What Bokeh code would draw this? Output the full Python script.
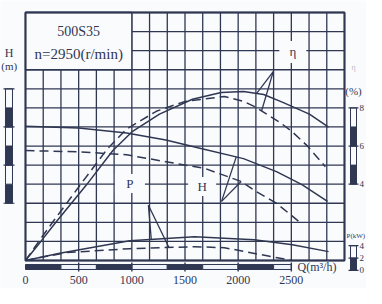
import numpy as np
from bokeh.plotting import figure
from bokeh.models import Range1d
from bokeh.core.properties import value
from bokeh.embed import file_html
from bokeh.resources import INLINE

# ---------------- data ----------------
# Head H (m) vs flow Q (m3/h)
q_h_solid = [0, 500, 950, 1320, 1660, 2050, 2360, 2600, 2840]
h_solid = [45.2, 44.7, 43.4, 41.6, 39.3, 36.7, 33.3, 29.9, 25.5]
q_h_dash = [0, 500, 950, 1320, 1690, 2030, 2150, 2360, 2590]
h_dash = [38.8, 38.5, 37.7, 35.9, 34.1, 30.7, 28.4, 25.0, 19.8]
# Efficiency (%)
q_eta_solid = [0, 150, 280, 570, 820, 1000, 1260, 1570, 1840, 2050, 2240, 2420, 2670, 2850]
eta_solid = [0, 10.4, 19.7, 39.4, 57.5, 67.4, 76.7, 84.5, 88.1, 88.6, 87.0, 82.9, 76.7, 69.9]
q_eta_dash = [0, 130, 270, 540, 770, 950, 1230, 1500, 1870, 2050, 2150, 2390, 2510, 2650, 2820]
eta_dash = [0, 10.4, 21.2, 41.5, 58.5, 68.9, 78.2, 83.4, 86.0, 83.4, 80.8, 72.5, 67.4, 60.1, 49.2]
# Shaft power P (kW)
q_p_solid = [0, 310, 980, 1590, 2150, 2510, 2850]
p_solid = [160, 272, 480, 544, 496, 416, 304]
q_p_dash = [0, 380, 980, 1590, 1870, 2210, 2510]
p_dash = [160, 288, 352, 384, 368, 256, 160]

# axes / scales
q_ticks = [0, 500, 1000, 1500, 2000, 2500]
q_tick_labels = ["0", "500", "1000", "1500", "2000", "2500"]
q_bar_edges = [0, 333.3, 666.7, 1000, 1333.3, 1666.7, 2000, 2333.3, 2500]
h_bar_edges = [25, 30, 35, 40, 45, 50, 55]
eta_bar_edges = [40, 50, 60, 70, 80]
eta_label_vals = [40, 60, 80]
eta_labels = ["4", "6", "8"]          # as printed at the chart edge
p_bar_edges = [0, 200, 400]
p_label_vals = [0, 200, 400]
p_labels = ["0", "2", "4"]            # as printed at the chart edge

Q_MAX = 3000
H_MIN, H_MAX = 10, 75
title1 = "500S35"
title2 = "n=2950(r/min)"

# ---------------- figure ----------------
INK = "#2f3753"
BG = "#fafbfd"
FONT = "Liberation Serif"

p = figure(width=366, height=288, output_backend="svg", toolbar_location=None,
           x_range=Range1d(-235.1, 3206.9), y_range=Range1d(2.661, 78.145),
           x_axis_type=None, y_axis_type=None, min_border=0)
p.extra_y_ranges = {"eta": Range1d(-14.68, 136.29), "P": Range1d(-293, 4370)}
p.background_fill_color = BG
p.border_fill_color = BG
p.outline_line_color = None
p.grid.visible = False

# grid
qg = np.linspace(0, Q_MAX, 19)
hg = np.arange(H_MIN, H_MAX + 1, 5)
p.segment(x0=qg, y0=[H_MIN] * len(qg), x1=qg, y1=[H_MAX] * len(qg), line_color=INK, line_width=1.3)
p.segment(x0=[0] * len(hg), y0=hg, x1=[Q_MAX] * len(hg), y1=hg, line_color=INK, line_width=1.3)

# title box
p.quad(left=[0], right=[1000], bottom=[60], top=[H_MAX], fill_color=BG, line_color=INK, line_width=1.3)
p.text(x=[500], y=[70.1], text=[title1], text_font=value(FONT), text_font_size="14px",
       text_align="center", text_baseline="middle", text_color=INK)
p.text(x=[500], y=[64.25], text=[title2], text_font=value(FONT), text_font_size="15px",
       text_align="center", text_baseline="middle", text_color=INK)

# label backgrounds
p.rect(x=[2514], y=[109.3], width=27, height=22, width_units="screen", height_units="screen",
       fill_color=BG, line_color=None, y_range_name="eta")
p.rect(x=[1661], y=[29.4], width=28, height=19, width_units="screen", height_units="screen",
       fill_color=BG, line_color=None)
p.rect(x=[982], y=[1408], width=30, height=19, width_units="screen", height_units="screen",
       fill_color=BG, line_color=None, y_range_name="P")

# curves
lw = 1.5
p.line(q_h_solid, h_solid, line_color=INK, line_width=lw)
p.line(q_h_dash, h_dash, line_color=INK, line_width=lw, line_dash="9 5")
p.line(q_eta_solid, eta_solid, line_color=INK, line_width=lw, y_range_name="eta")
p.line(q_eta_dash, eta_dash, line_color=INK, line_width=lw, line_dash="9 5", y_range_name="eta")
p.line(q_p_solid, p_solid, line_color=INK, line_width=lw, y_range_name="P")
p.line(q_p_dash, p_dash, line_color=INK, line_width=lw, line_dash="9 5", y_range_name="P")

# leaders
for q, xs, ys in [(2174, q_eta_solid, eta_solid), (2220, q_eta_dash, eta_dash)]:
    yv = float(np.interp(q, xs, ys))
    p.segment(x0=[2330], y0=[99.0], x1=[q], y1=[yv], line_color=INK, line_width=1.3, y_range_name="eta")
for q, xs, ys in [(1982, q_h_solid, h_solid), (2028, q_h_dash, h_dash)]:
    yv = float(np.interp(q, xs, ys))
    p.segment(x0=[1844], y0=[25.5], x1=[q], y1=[yv], line_color=INK, line_width=1.3)
for q, xs, ys in [(1183, q_p_solid, p_solid), (1349, q_p_dash, p_dash)]:
    yv = float(np.interp(q, xs, ys))
    p.segment(x0=[1156], y0=[1056], x1=[q], y1=[yv], line_color=INK, line_width=1.3, y_range_name="P")

# curve labels
p.text(x=[2514], y=[109.3], text=["η"], text_font=value(FONT), text_font_size="13px",
       text_align="center", text_baseline="middle", text_color=INK, y_range_name="eta")
p.text(x=[1661], y=[29.4], text=["H"], text_font=value(FONT), text_font_size="13px",
       text_align="center", text_baseline="middle", text_color=INK)
p.text(x=[982], y=[1408], text=["P"], text_font=value(FONT), text_font_size="13px",
       text_align="center", text_baseline="middle", text_color=INK, y_range_name="P")

# frame border
p.quad(left=[0], right=[Q_MAX], bottom=[H_MIN], top=[H_MAX], fill_color=None, line_color=INK, line_width=2)

# ---------------- bottom Q scale bar ----------------
bl = q_bar_edges[:-1]
br = q_bar_edges[1:]
fills = [INK if i % 2 == 0 else "#eef3fa" for i in range(len(bl))]
p.quad(left=bl, right=br, bottom=[7.641] * len(bl), top=[8.952] * len(bl), fill_color=fills,
       line_color=INK, line_width=1)
p.segment(x0=q_ticks[1:], y0=[7.117] * 5, x1=q_ticks[1:], y1=[9.476] * 5, line_color=INK, line_width=1.4)
p.text(x=q_ticks, y=[3.9] * len(q_ticks), text=q_tick_labels, text_font=value(FONT),
       text_font_size="12px", text_align="center", text_baseline="bottom", text_color=INK)
p.text(x=[2558], y=[8.296], text=["Q(m³/h)"], text_font=value(FONT), text_font_size="12px",
       text_align="left", text_baseline="middle", text_color=INK)

# ---------------- left H scale ----------------
hl, hr = -188.1, -122.3
hb = h_bar_edges[:-1]
ht = h_bar_edges[1:]
hfills = [INK if i % 2 == 0 else BG for i in range(len(hb))]
p.quad(left=[hl] * len(hb), right=[hr] * len(hb), bottom=hb, top=ht, fill_color=hfills,
       line_color=INK, line_width=1)
cap_h = [h_bar_edges[0], h_bar_edges[2], h_bar_edges[4], h_bar_edges[-1]]
p.segment(x0=[-206.9] * 4, y0=cap_h, x1=[-103.4] * 4, y1=cap_h, line_color=INK, line_width=1.2)
p.text(x=[-155.2], y=[64.28], text=["H"], text_font=value(FONT), text_font_size="12px",
       text_align="center", text_baseline="middle", text_color=INK)
p.text(x=[-228], y=[61.03], text=["(m)"], text_font=value(FONT), text_font_size="11px",
       text_align="left", text_baseline="middle", text_color=INK)

# ---------------- right eta scale ----------------
el, er = 3056.4, 3112.9
eb = eta_bar_edges[:-1]
et = eta_bar_edges[1:]
efills = [INK if i % 2 == 0 else BG for i in range(len(eb))]
p.quad(left=[el] * len(eb), right=[er] * len(eb), bottom=eb, top=et, fill_color=efills,
       line_color=INK, line_width=1, y_range_name="eta")
p.segment(x0=[3037.6] * 3, y0=eta_label_vals, x1=[3131.7] * 3, y1=eta_label_vals,
          line_color=INK, line_width=1.2, y_range_name="eta")
p.text(x=[3141] * 3, y=eta_label_vals, text=eta_labels, text_font=value(FONT), text_font_size="9px",
       text_align="left", text_baseline="middle", text_color=INK, y_range_name="eta")
p.text(x=[3084.6], y=[88.6], text=["(%)"], text_font=value(FONT), text_font_size="11px",
       text_align="center", text_baseline="middle", text_color=INK, y_range_name="eta")
p.text(x=[3084.6], y=[101], text=["η"], text_font=value(FONT), text_font_size="8px",
       text_align="center", text_baseline="middle", text_color="#b8bccb", y_range_name="eta")

# ---------------- right P scale ----------------
pb = p_bar_edges[:-1]
pt = p_bar_edges[1:]
pfills = [INK if i % 2 == 0 else BG for i in range(len(pb))]
p.quad(left=[el] * len(pb), right=[er] * len(pb), bottom=pb, top=pt, fill_color=pfills,
       line_color=INK, line_width=1, y_range_name="P")
p.segment(x0=[3037.6] * 3, y0=p_label_vals, x1=[3131.7] * 3, y1=p_label_vals,
          line_color=INK, line_width=1.2, y_range_name="P")
p.text(x=[3141] * 3, y=p_label_vals, text=p_labels, text_font=value(FONT), text_font_size="9px",
       text_align="left", text_baseline="middle", text_color=INK, y_range_name="P")
p.text(x=[3019], y=[565], text=["P(kW)"], text_font=value(FONT), text_font_size="7px",
       text_align="left", text_baseline="middle", text_color=INK, y_range_name="P")

open("out.html", "w").write(file_html(p, INLINE))
